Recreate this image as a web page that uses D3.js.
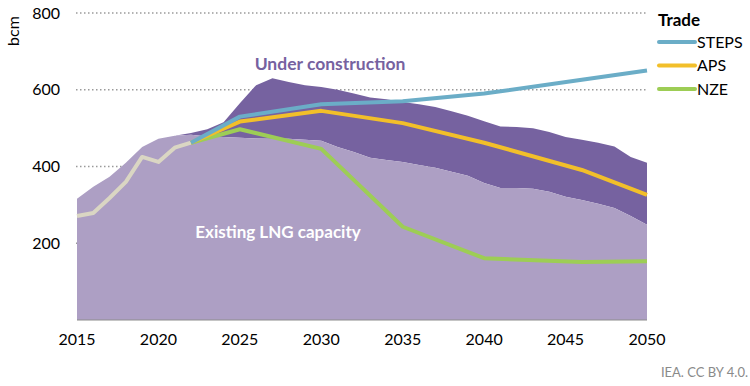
<!DOCTYPE html>
<html>
<head>
<meta charset="utf-8">
<script src="https://cdn.jsdelivr.net/npm/d3@7"></script>
<style>
	body { margin: 0; background: #fff; }
	svg { display: block; font-family: Lato, "Open Sans", sans-serif; }
</style>
</head>
<body>
<div id="chart"></div>
<script>
// capacity, bcm
const capYears = d3.range(2015, 2051)
const existing = [316, 347, 373, 410, 451, 472, 480, 483, 478, 477, 475, 473, 472, 472, 470, 467, 451, 438, 423, 417,
	412, 404, 397, 386, 376, 357, 344, 344, 342, 334, 321, 313, 303, 292, 271, 248]
const underConstruction = [0, 0, 0, 0, 0, 0, 0, 4, 19, 38, 90, 139, 158, 148, 142, 140, 149, 152, 157, 158,
	156, 158, 158, 158, 156, 161, 160, 159, 158, 156, 156, 157, 159, 160, 154, 162]

// trade
const histYears = [2015, 2016, 2017, 2018, 2019, 2020, 2021, 2022]
const histTrade = [271, 279, 318, 360, 425, 412, 449, 462]
const scenYears = [2022, 2025, 2030, 2035, 2040, 2046, 2050]
const steps = [462, 530, 562, 570, 590, 626, 650]
const aps = [462, 517, 545, 513, 462, 391, 326]
const nze = [462, 497, 446, 243, 161, 151, 153]

const scenarios = [
	{ name: "STEPS", values: steps, color: "#6badc7" },
	{ name: "APS", values: aps, color: "#f2bf2a" },
	{ name: "NZE", values: nze, color: "#9dcd55" }
]
const xTicks = [2015, 2020, 2025, 2030, 2035, 2040, 2045, 2050]
const yTicks = [200, 400, 600, 800]

const width = 750, height = 386
const svg = d3.select("#chart").append("svg")
	.attr("width", width)
	.attr("height", height)

const x = d3.scaleLinear().domain([2015, 2050]).range([77, 647])
const y = d3.scaleLinear().domain([0, 800]).range([320, 13])

// gridlines
svg.append("g")
	.selectAll("line")
	.data(yTicks)
	.join("line")
	.attr("x1", x(2015) - 1)
	.attr("x2", x(2050))
	.attr("y1", d => y(d))
	.attr("y2", d => y(d))
	.attr("stroke", "#9a9a9a")
	.attr("stroke-width", 1.5)
	.attr("stroke-dasharray", "1.5,2.5")

// areas
const capData = capYears.map((yr, i) => ({ yr, e: existing[i], u: underConstruction[i] }))

svg.append("path")
	.datum(capData)
	.attr("fill", "#7662a0")
	.attr("d", d3.area().x(d => x(d.yr)).y0(d => y(d.e)).y1(d => y(d.e + d.u)))

svg.append("path")
	.datum(capData)
	.attr("fill", "#ad9fc4")
	.attr("d", d3.area().x(d => x(d.yr)).y0(y(0)).y1(d => y(d.e)))

// x axis line
svg.append("line")
	.attr("x1", x(2015))
	.attr("x2", x(2050))
	.attr("y1", y(0))
	.attr("y2", y(0))
	.attr("stroke", "#8c8c8c")
	.attr("stroke-width", 1)

// trade lines
const line = d3.line().x(d => x(d[0])).y(d => y(d[1]))

svg.append("path")
	.datum(histYears.map((yr, i) => [yr, histTrade[i]]))
	.attr("fill", "none")
	.attr("stroke", "#dad6c3")
	.attr("stroke-width", 4)
	.attr("stroke-linejoin", "round")
	.attr("d", line)

// draw NZE first so STEPS sits on top
svg.append("g")
	.selectAll("path")
	.data(scenarios.slice().reverse())
	.join("path")
	.attr("fill", "none")
	.attr("stroke", d => d.color)
	.attr("stroke-width", 4)
	.attr("stroke-linejoin", "round")
	.attr("d", d => line(scenYears.map((yr, i) => [yr, d.values[i]])))

// tick labels
svg.append("g")
	.selectAll("text")
	.data(yTicks)
	.join("text")
	.attr("x", 60)
	.attr("y", d => y(d))
	.attr("dy", "0.35em")
	.attr("text-anchor", "end")
	.attr("font-size", 16)
	.attr("fill", "#000")
	.text(d => d)

svg.append("g")
	.selectAll("text")
	.data(xTicks)
	.join("text")
	.attr("x", d => x(d))
	.attr("y", 339)
	.attr("dy", "0.35em")
	.attr("text-anchor", "middle")
	.attr("font-size", 16)
	.attr("fill", "#000")
	.text(d => d)

svg.append("text")
	.attr("transform", "translate(19, 31) rotate(-90)")
	.attr("text-anchor", "middle")
	.attr("font-size", 16)
	.attr("fill", "#000")
	.text("bcm")

// area labels
svg.append("text")
	.attr("x", 330)
	.attr("y", 64)
	.attr("dy", "0.35em")
	.attr("text-anchor", "middle")
	.attr("font-size", 17.5)
	.attr("font-weight", "bold")
	.attr("fill", "#7662a0")
	.text("Under construction")

svg.append("text")
	.attr("x", 278)
	.attr("y", 232)
	.attr("dy", "0.35em")
	.attr("text-anchor", "middle")
	.attr("font-size", 17)
	.attr("font-weight", "bold")
	.attr("fill", "#fff")
	.text("Existing LNG capacity")

// legend
const legend = svg.append("g").attr("transform", "translate(658, 0)")
legend.append("text")
	.attr("x", 0)
	.attr("y", 20)
	.attr("dy", "0.35em")
	.attr("font-size", 17)
	.attr("font-weight", "bold")
	.attr("fill", "#000")
	.text("Trade")

const legendItems = legend.selectAll("g.item")
	.data(scenarios)
	.join("g")
	.attr("class", "item")
	.attr("transform", (d, i) => `translate(0, ${42 + i * 23.5})`)

legendItems.append("line")
	.attr("x1", 1)
	.attr("x2", 37)
	.attr("stroke", d => d.color)
	.attr("stroke-width", 4)
	.attr("stroke-linecap", "round")

legendItems.append("text")
	.attr("x", 39)
	.attr("dy", "0.35em")
	.attr("font-size", 16)
	.attr("fill", "#000")
	.text(d => d.name)

svg.append("text")
	.attr("x", 748)
	.attr("y", 372)
	.attr("dy", "0.35em")
	.attr("text-anchor", "end")
	.attr("font-size", 13)
	.attr("fill", "#8a8a8a")
	.text("IEA. CC BY 4.0.")
</script>
</body>
</html>
